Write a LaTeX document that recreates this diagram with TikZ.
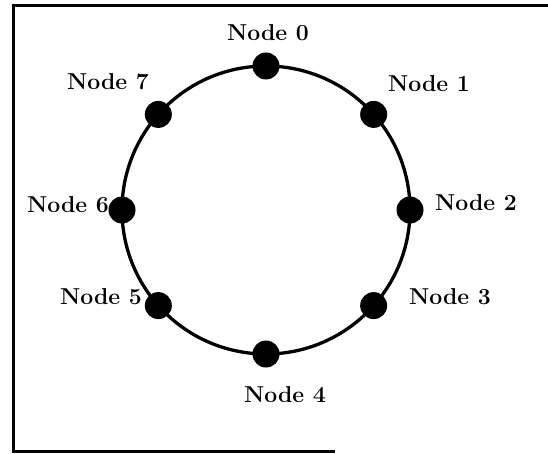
\documentclass[tikz,border=0pt]{standalone}
\begin{document}
\begin{tikzpicture}[x=1pt,y=1pt,
        nodo/.style={circle,fill=black,inner sep=0pt,minimum size=27pt},
        etiqueta/.style={font=\fontsize{23}{27}\selectfont\bfseries}]
        \useasboundingbox (0,0) rectangle (548,453);

        % Marco
        \draw[line width=3pt] (335,2) -- (13,2) -- (13,447) -- (548,447);

        % Anillo
        \coordinate (centro) at (266,243);
        \draw[line width=3.3pt] (centro) circle (144pt);

        % Nodos del anillo
        \foreach \a [count=\i from 0] in {90,41.6,0,-41.6,-90,-138.4,180,138.4}
            \node[nodo] (n\i) at ([shift={(\a:144pt)}]centro) {};

        % Etiquetas
        \node[etiqueta] (e0) at (268,420) {Node 0};
        \node[etiqueta] (e1) at (429,369) {Node 1};
        \node[etiqueta] (e2) at (476,250) {Node 2};
        \node[etiqueta] (e3) at (450,156) {Node 3};
        \node[etiqueta] (e4) at (285,58) {Node 4};
        \node[etiqueta] (e5) at (101,156) {Node 5};
        \node[etiqueta] (e6) at (68,248) {Node 6};
        \node[etiqueta] (e7) at (108,371) {Node 7};
\end{tikzpicture}
\end{document}
